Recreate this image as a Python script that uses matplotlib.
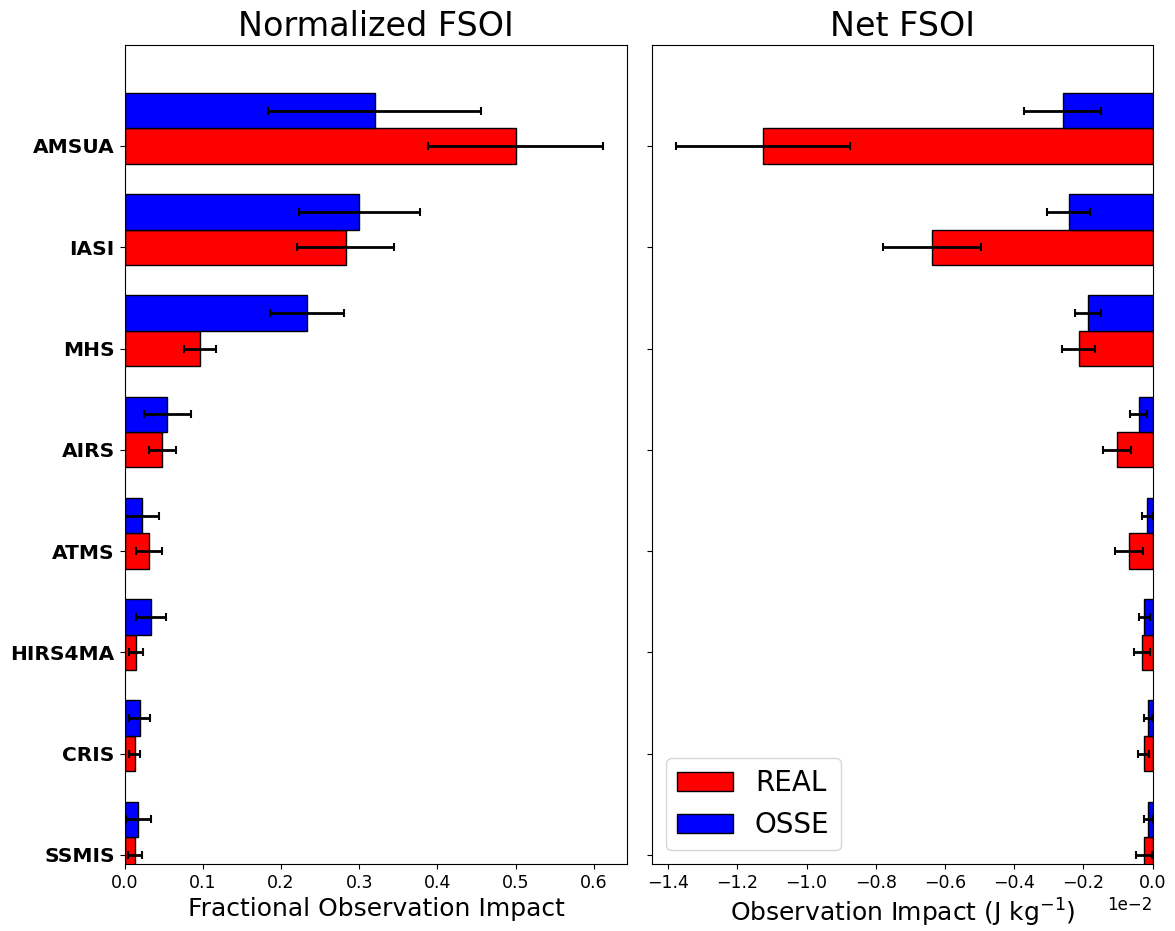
import numpy as np
import matplotlib
matplotlib.use("Agg")
import matplotlib.pyplot as plt

obs_types = ["AMSUA", "IASI", "MHS", "AIRS", "ATMS", "HIRS4MA", "CRIS", "SSMIS"]

# normalized (fractional) impact
frac_real = [0.500, 0.283, 0.096, 0.0485, 0.0313, 0.0146, 0.013, 0.013]
frac_real_err = [0.1115, 0.062, 0.0205, 0.0175, 0.0167, 0.009, 0.0068, 0.009]
frac_osse = [0.320, 0.300, 0.233, 0.0548, 0.0219, 0.0334, 0.0193, 0.0177]
frac_osse_err = [0.136, 0.0775, 0.047, 0.030, 0.022, 0.0193, 0.013, 0.016]

# net impact (J/kg)
net_real = [-1.126e-2, -0.637e-2, -0.214e-2, -0.103e-2, -0.069e-2, -0.031e-2, -0.026e-2, -0.026e-2]
net_real_err = [0.252e-2, 0.141e-2, 0.047e-2, 0.041e-2, 0.040e-2, 0.022e-2, 0.016e-2, 0.023e-2]
net_osse = [-0.260e-2, -0.243e-2, -0.187e-2, -0.040e-2, -0.015e-2, -0.024e-2, -0.013e-2, -0.013e-2]
net_osse_err = [0.111e-2, 0.0625e-2, 0.038e-2, 0.025e-2, 0.017e-2, 0.015e-2, 0.011e-2, 0.013e-2]

n = len(obs_types)
y = np.arange(n)[::-1]  # AMSUA on top
h = 0.35

fig = plt.figure(figsize=(11.75, 9.31), dpi=100)
ax1 = fig.add_axes([0.106, 0.072, 0.428, 0.880])
ax2 = fig.add_axes([0.555, 0.072, 0.426, 0.880], sharey=ax1)

err_kw = dict(elinewidth=2, capsize=3, capthick=1.5, ecolor="black")

ax1.barh(y, frac_real, h, xerr=frac_real_err, color="red", edgecolor="black",
         label="REAL", error_kw=err_kw)
ax1.barh(y + h, frac_osse, h, xerr=frac_osse_err, color="blue", edgecolor="black",
         label="OSSE", error_kw=err_kw)

ax2.barh(y, net_real, h, xerr=net_real_err, color="red", edgecolor="black",
         label="REAL", error_kw=err_kw)
ax2.barh(y + h, net_osse, h, xerr=net_osse_err, color="blue", edgecolor="black",
         label="OSSE", error_kw=err_kw)

ax1.set_yticks(y)
ax1.set_yticklabels(obs_types, fontsize=14.5, fontweight="bold")
ax1.set_ylim(-0.09, 8.0)
plt.setp(ax2.get_yticklabels(), visible=False)

ax1.set_xlim(0, 0.643)
ax2.set_xlim(-1.446e-2, 0)
ax2.ticklabel_format(axis="x", style="sci", scilimits=(0, 0))

ax1.set_title("Normalized FSOI", fontsize=24)
ax2.set_title("Net FSOI", fontsize=24)
ax1.set_xlabel("Fractional Observation Impact", fontsize=18)
ax2.set_xlabel("Observation Impact (J kg$^{-1}$)", fontsize=18)
ax1.tick_params(axis="x", labelsize=12.5)
ax2.tick_params(axis="x", labelsize=12.5)
ax2.xaxis.get_offset_text().set_fontsize(12)

ax2.legend(loc="lower left", fontsize=20)

fig.savefig("out.png", dpi=100)
